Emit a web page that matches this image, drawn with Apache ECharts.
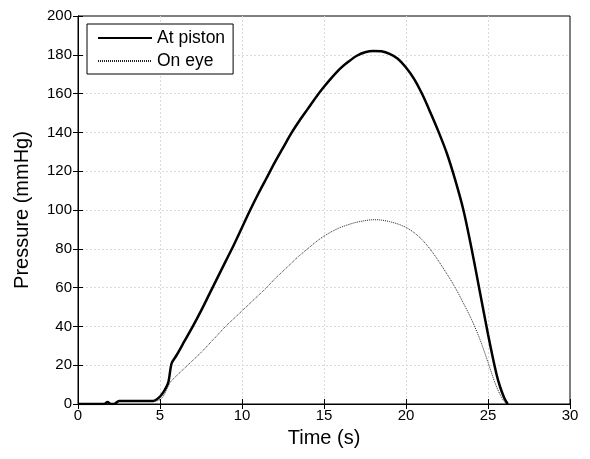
<!DOCTYPE html>
<html>
<head>
<meta charset="utf-8">
<script src="https://cdn.jsdelivr.net/npm/echarts@6/dist/echarts.min.js"></script>
<style>html,body{margin:0;padding:0;background:#fff;}#c{width:590px;height:459px;}</style>
</head>
<body>
<div id="c"></div>
<script>
const pistonTime = [0,1.6,1.8,2.0,2.2,2.5,3,4,4.6,4.9,5.2,5.5,5.71,6.0,6.5,7.0,7.5,8.0,8.5,9.0,9.5,10.0,10.5,11.0,11.5,12.0,12.5,13.0,13.5,14.0,14.5,15.0,15.5,16.0,16.5,17.0,17.5,18.0,18.5,19.0,19.5,20.0,20.5,21.0,21.5,22.0,22.5,23.0,23.5,24.0,24.5,25.0,25.5,25.75,26.0,26.2];
const pistonPressure = [0,0,1,0,0,1.5,1.5,1.5,1.6,3,6,11,21,25,32.5,40,48,56.5,65,73.5,82,91,100,108.5,116.5,124.5,132,139.5,146,152,158,163.5,168.5,173,176.5,179.5,181.3,182,181.8,180.5,178,173.5,167.5,159.5,150,140,129,115.5,100,80,58,36,16,8.5,3,0];
const eyeTime = [0,2.3,2.6,4.6,4.9,5.2,5.61,6.0,6.5,7.0,7.5,8.0,8.5,9.0,9.5,10.0,10.5,11.0,11.5,12.0,12.5,13.0,13.5,14.0,14.5,15.0,15.5,16.0,16.5,17.0,17.5,18.0,18.5,19.0,19.5,20.0,20.5,21.0,21.5,22.0,22.5,23.0,23.5,24.0,24.5,25.0,25.4,25.7,25.95,26.14];
const eyePressure = [0,0,1.5,1.5,1.8,4,11,14.5,18.5,22.5,26.5,31,35.5,40,44,48,52,56,60,64.5,68.5,72.5,76.5,80,83.5,86.5,89,91,92.5,93.7,94.5,95,94.8,94,92.8,91,88.3,84.5,79.5,73.5,67,60,52,43.5,33.5,21.5,11.5,5.5,1.8,0];
const seriesNames = ['At piston','On eye'];
const xTicks = [0,5,10,15,20,25,30];
const yTicks = [0,20,40,60,80,100,120,140,160,180,200];

const zip = (a,b) => a.map((v,i)=>[v,b[i]]);
const font = 'Liberation Sans, Arial, sans-serif';
const chart = echarts.init(document.getElementById('c'), null, {renderer:'canvas'});
const split = {show:true, showMinLine:false, showMaxLine:false, lineStyle:{color:'#dadada', type:[2,2], width:1}};
const axisLineStyle = {show:true, lineStyle:{color:'#000', width:1}};
chart.setOption({
  animation:false,
  backgroundColor:'#fff',
  grid:{left:78, right:20, top:16, bottom:55, show:true, borderColor:'#000', borderWidth:1},
  legend:{
    left:87, top:24, orient:'vertical',
    data:seriesNames,
    backgroundColor:'#fff', borderColor:'#000', borderWidth:1,
    padding:[5,8,4,10], itemWidth:54, itemHeight:14, itemGap:5,
    itemStyle:{opacity:0},
    textStyle:{fontFamily:font, fontSize:17.5, color:'#000'}
  },
  xAxis:[{
    type:'value', min:xTicks[0], max:xTicks[xTicks.length-1], interval:5,
    name:'Time (s)', nameLocation:'middle', nameGap:24,
    nameTextStyle:{fontFamily:font, fontSize:20, color:'#000'},
    axisLine:axisLineStyle, axisTick:{inside:true, length:5, lineStyle:{color:'#000'}},
    axisLabel:{fontFamily:font, fontSize:15, color:'#000', margin:4},
    splitLine:split
  },{
    type:'value', position:'top', min:0, max:30, interval:5,
    axisLine:axisLineStyle, axisTick:{inside:true, length:5, lineStyle:{color:'#000'}},
    axisLabel:{show:false}, splitLine:{show:false}
  }],
  yAxis:[{
    type:'value', min:yTicks[0], max:yTicks[yTicks.length-1], interval:20,
    name:'Pressure (mmHg)', nameLocation:'middle', nameGap:46,
    nameTextStyle:{fontFamily:font, fontSize:20, color:'#000'},
    axisLine:axisLineStyle, axisTick:{inside:true, length:5, lineStyle:{color:'#000'}},
    axisLabel:{fontFamily:font, fontSize:15, color:'#000', margin:6},
    splitLine:split
  },{
    type:'value', position:'right', min:0, max:200, interval:20,
    axisLine:axisLineStyle, axisTick:{inside:true, length:5, lineStyle:{color:'#000'}},
    axisLabel:{show:false}, splitLine:{show:false}
  }],
  series:[{
    name:seriesNames[0], type:'line', data:zip(pistonTime,pistonPressure),
    showSymbol:false, symbol:'none', smooth:0.3,
    lineStyle:{color:'#000', width:2.5}, itemStyle:{color:'#000'}, z:3
  },{
    name:seriesNames[1], type:'line', data:zip(eyeTime,eyePressure),
    showSymbol:false, symbol:'none', smooth:0.3,
    lineStyle:{color:'#222', width:1, type:[1,1]}, itemStyle:{color:'#222'}, z:2
  }]
});
</script>
</body>
</html>
